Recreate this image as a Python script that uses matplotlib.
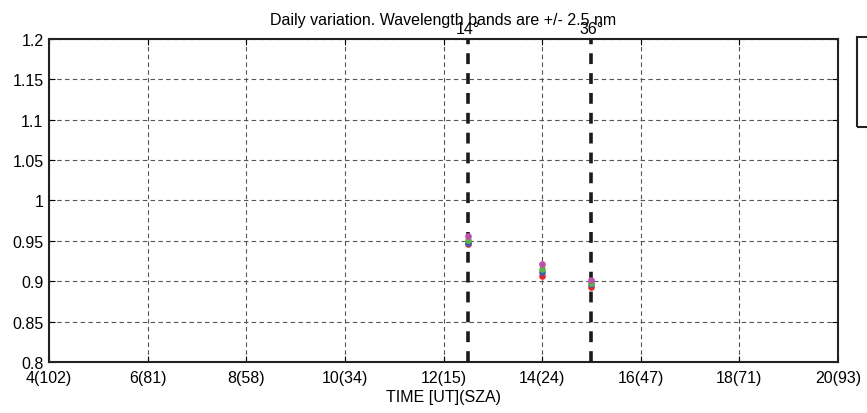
import matplotlib
matplotlib.use("Agg")
from matplotlib import pyplot as plt
from matplotlib.patches import Rectangle
import numpy as np

# data
times = [12.5, 14.0, 15.0]
red = [0.946, 0.907, 0.893]
blue = [0.947, 0.911, 0.896]
green = [0.951, 0.915, 0.898]
magenta = [0.956, 0.921, 0.902]
series_colors = ['#e8262a', '#3a5fae', '#5cb546', '#bf4fa8']

sza_lines = [12.5, 15.0]
sza_labels = ['14°', '36°']

xticks = [4, 6, 8, 10, 12, 14, 16, 18, 20]
xticklabels = ['4(102)', '6(81)', '8(58)', '10(34)', '12(15)', '14(24)', '16(47)', '18(71)', '20(93)']
yticks = [0.8, 0.85, 0.9, 0.95, 1, 1.05, 1.1, 1.15, 1.2]
yticklabels = ['0.8', '0.85', '0.9', '0.95', '1', '1.05', '1.1', '1.15', '1.2']

plt.rcParams['font.family'] = ['Liberation Sans', 'DejaVu Sans']
fs = 11.5

fig = plt.figure(figsize=(8.67, 4.14), dpi=100)
ax = fig.add_axes([0.0565, 0.1232, 0.9101, 0.7802])

for vals, c in zip([red, blue, green, magenta], series_colors):
    ax.plot(times, vals, 'o', color=c, markersize=4.8, markeredgewidth=0, zorder=5)

for x, lab in zip(sza_lines, sza_labels):
    ax.axvline(x, color='#1a1a1a', linestyle=(0, (3, 2.5)), linewidth=2.6, zorder=4)
    ax.text(x, 1.032, lab, transform=ax.get_xaxis_transform(), ha='center', va='center',
            fontsize=fs, clip_on=False)

ax.set_xlim(4, 20)
ax.set_ylim(0.8, 1.2)
ax.set_xticks(xticks)
ax.set_xticklabels(xticklabels, fontsize=fs)
ax.set_yticks(yticks)
ax.set_yticklabels(yticklabels, fontsize=fs)
ax.tick_params(direction='in', length=4, width=0.8, top=True, right=True)
ax.tick_params(axis='y', pad=4)
ax.tick_params(axis='x', pad=6)
ax.grid(True, color='#555555', linestyle=(0, (4, 3)), linewidth=0.8)
for s in ax.spines.values():
    s.set_linewidth(1.5)
    s.set_color('#222222')

ax.set_xlabel('TIME [UT](SZA)', fontsize=fs, labelpad=3)
ax.set_title('Daily variation. Wavelength bands are +/- 2.5 nm', fontsize=fs, pad=11)

# empty legend box cut off at the right edge
fig.patches.append(Rectangle((0.9885, 0.691), 0.05, 0.217, transform=fig.transFigure,
                             fill=False, edgecolor='#222222', linewidth=1.5))

fig.savefig('out.png', dpi=100)
